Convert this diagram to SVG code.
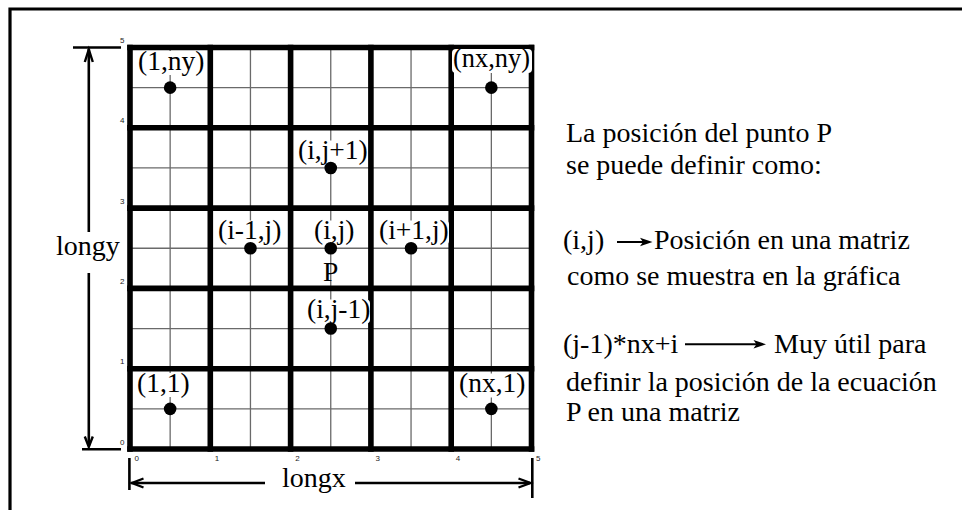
<svg xmlns="http://www.w3.org/2000/svg" width="962" height="510" viewBox="0 0 962 510">
<style>
  .thin{stroke:#6a6a6a;stroke-width:1.3;fill:none}
  .thick{stroke:#000;stroke-width:5.6;fill:none;stroke-linecap:square}
  .lbl{font-family:"Liberation Serif","Times New Roman",serif;font-size:27.5px;fill:#000}
  .txt{font-family:"Liberation Serif","Times New Roman",serif;font-size:28px;fill:#000}
  .tick{font-family:"Liberation Sans",Arial,sans-serif;font-size:8px;fill:#222;text-anchor:middle}
  .bg{fill:#fff}
  .dot{fill:#000}
  .dim{stroke:#000;stroke-width:2.6;fill:none}
  .head{stroke:#000;stroke-width:2.4;fill:none;stroke-linejoin:miter}
  .arr{stroke:#000;stroke-width:2;fill:none}
</style>
<rect width="962" height="510" fill="#fff"/>
<path d="M10,515 V9 H967" stroke="#000" stroke-width="3.2" fill="none"/>

<g id="grid">
  <g class="thin">
    <line x1="170.15" y1="47.5" x2="170.15" y2="449"/>
    <line x1="250.45" y1="47.5" x2="250.45" y2="449"/>
    <line x1="330.75" y1="47.5" x2="330.75" y2="449"/>
    <line x1="411.05" y1="47.5" x2="411.05" y2="449"/>
    <line x1="491.35" y1="47.5" x2="491.35" y2="449"/>
    <line x1="130" y1="87.65" x2="531.5" y2="87.65"/>
    <line x1="130" y1="167.95" x2="531.5" y2="167.95"/>
    <line x1="130" y1="248.25" x2="531.5" y2="248.25"/>
    <line x1="130" y1="328.55" x2="531.5" y2="328.55"/>
    <line x1="130" y1="408.85" x2="531.5" y2="408.85"/>
  </g>
  <g class="thick">
    <line x1="130" y1="47.5" x2="130" y2="449"/>
    <line x1="210.3" y1="47.5" x2="210.3" y2="449"/>
    <line x1="290.6" y1="47.5" x2="290.6" y2="449"/>
    <line x1="370.9" y1="47.5" x2="370.9" y2="449"/>
    <line x1="451.2" y1="47.5" x2="451.2" y2="449"/>
    <line x1="531.5" y1="47.5" x2="531.5" y2="449"/>
    <line x1="130" y1="47.5" x2="531.5" y2="47.5"/>
    <line x1="130" y1="127.8" x2="531.5" y2="127.8"/>
    <line x1="130" y1="208.1" x2="531.5" y2="208.1"/>
    <line x1="130" y1="288.4" x2="531.5" y2="288.4"/>
    <line x1="130" y1="368.7" x2="531.5" y2="368.7"/>
    <line x1="130" y1="449" x2="531.5" y2="449"/>
  </g>
  <g id="ticks-y" class="tick">
    <text x="122.3" y="43">5</text>
    <text x="122.3" y="123.3">4</text>
    <text x="122.3" y="203.6">3</text>
    <text x="122.3" y="283.9">2</text>
    <text x="122.3" y="364.2">1</text>
    <text x="122.3" y="444.5">0</text>
  </g>
  <g id="ticks-x" class="tick">
    <text x="136.8" y="461">0</text>
    <text x="217.1" y="461">1</text>
    <text x="297.4" y="461">2</text>
    <text x="377.7" y="461">3</text>
    <text x="458" y="461">4</text>
    <text x="538.3" y="461">5</text>
  </g>
</g>

<g id="node-1-ny">
  <rect class="bg" x="137" y="51" width="68.5" height="24" rx="4"/>
  <circle class="dot" cx="170.15" cy="87.65" r="6.3"/>
  <text class="lbl" x="138" y="69.5">(1,ny)</text>
</g>
<g id="node-nx-ny">
  <rect class="bg" x="452" y="49" width="80" height="24" rx="4"/>
  <circle class="dot" cx="491.35" cy="87.65" r="6.3"/>
  <text class="lbl" x="453" y="67" textLength="77" lengthAdjust="spacingAndGlyphs">(nx,ny)</text>
</g>
<g id="node-i-j1">
  <rect class="bg" x="297" y="140.5" width="71" height="24" rx="4"/>
  <circle class="dot" cx="330.75" cy="167.95" r="6.3"/>
  <text class="lbl" x="298" y="159">(i,j+1)</text>
</g>
<g id="node-im1-j">
  <rect class="bg" x="217" y="220.5" width="66" height="24" rx="4"/>
  <circle class="dot" cx="250.45" cy="248.25" r="6.3"/>
  <text class="lbl" x="218" y="239">(i-1,j)</text>
</g>
<g id="node-i-j">
  <rect class="bg" x="313" y="220.5" width="42.5" height="24" rx="4"/>
  <circle class="dot" cx="330.75" cy="248.25" r="6.3"/>
  <text class="lbl" x="314" y="239">(i,j)</text>
  <text class="lbl" x="323" y="281">P</text>
</g>
<g id="node-ip1-j">
  <rect class="bg" x="378" y="220.5" width="71" height="24" rx="4"/>
  <circle class="dot" cx="411.05" cy="248.25" r="6.3"/>
  <text class="lbl" x="379" y="239">(i+1,j)</text>
</g>
<g id="node-i-jm1">
  <rect class="bg" x="306" y="299.5" width="64" height="24" rx="4"/>
  <circle class="dot" cx="330.75" cy="328.55" r="6.3"/>
  <text class="lbl" x="307" y="318">(i,j-1)</text>
</g>
<g id="node-1-1">
  <rect class="bg" x="136" y="373" width="55" height="24" rx="4"/>
  <circle class="dot" cx="170.15" cy="408.85" r="6.3"/>
  <text class="lbl" x="137" y="391.5">(1,1)</text>
</g>
<g id="node-nx-1">
  <rect class="bg" x="458" y="373.5" width="69" height="24" rx="4"/>
  <circle class="dot" cx="491.35" cy="408.85" r="6.3"/>
  <text class="lbl" x="459" y="392">(nx,1)</text>
</g>

<g id="connectors">
  <line class="dim" x1="73" y1="47.5" x2="121" y2="47.5"/>
  <line class="dim" x1="82" y1="449.2" x2="121" y2="449.2"/>
  <line class="dim" x1="88.8" y1="49" x2="88.8" y2="232"/>
  <line class="dim" x1="88.8" y1="273" x2="88.8" y2="446"/>
  <polyline class="head" points="84.8,62 88.8,49.5 92.8,62"/>
  <polyline class="head" points="84.8,436.5 88.8,447 92.8,436.5"/>
  <line class="dim" x1="129.4" y1="458" x2="129.4" y2="490"/>
  <line class="dim" x1="532.3" y1="458" x2="532.3" y2="498"/>
  <line class="dim" x1="131" y1="483" x2="265" y2="483"/>
  <line class="dim" x1="355" y1="483" x2="530" y2="483"/>
  <polyline class="head" points="143.5,478.5 132,483 143.5,487.5"/>
  <polyline class="head" points="518.5,478.5 530.5,483 518.5,487.5"/>
  <line class="arr" x1="617" y1="242" x2="645" y2="242"/>
  <path d="M652.5,242 L640,237.8 L643,242 L640,246.2 Z" fill="#000"/>
  <line class="arr" x1="685" y1="344.3" x2="758" y2="344.3"/>
  <path d="M766,344.3 L753.5,340 L756.5,344.3 L753.5,348.6 Z" fill="#000"/>
</g>

<g id="dimension-labels">
  <text class="txt" x="56" y="255">longy</text>
  <text class="txt" x="282" y="487">longx</text>
</g>

<g id="explanation" class="txt">
  <text x="566" y="142">La posición del punto P</text>
  <text x="566" y="174">se puede definir como:</text>
  <text x="563" y="249">(i,j)</text>
  <text x="654" y="249">Posición en una matriz</text>
  <text x="567" y="285">como se muestra en la gráfica</text>
  <text x="563" y="353">(j-1)*nx+i</text>
  <text x="774" y="353">Muy útil para</text>
  <text x="566" y="391">definir la posición de la ecuación</text>
  <text x="566" y="421">P en una matriz</text>
</g>
</svg>
